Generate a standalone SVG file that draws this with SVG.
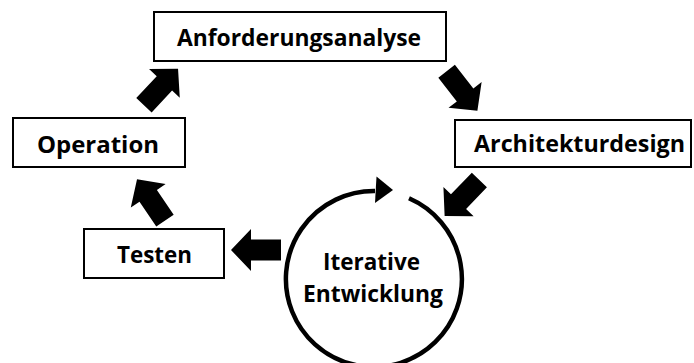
<svg xmlns="http://www.w3.org/2000/svg" xmlns:xlink="http://www.w3.org/1999/xlink" width="694" height="363" viewBox="0 0 694 363">
  <style>
    .box { fill: #ffffff; stroke: #000000; stroke-width: 2; }
    .lbl { font-family: "Open Sans", Lato, "Liberation Sans", sans-serif; font-weight: 700; font-size: 23.5px; fill: #000000; text-anchor: middle; font-variant-ligatures: none; }
    .blk { fill: #000000; stroke: none; }
    .ring { fill: none; stroke: #000000; stroke-width: 4.5; }
  </style>
  <defs>
    <polygon id="blockArrow" points="-25,-10.5 5,-10.5 5,-21 25,0 5,21 5,10.5 -25,10.5"/>
  </defs>
  <rect width="694" height="363" fill="#ffffff"/>

  <g id="connectors">
    <use xlink:href="#blockArrow" href="#blockArrow" class="blk" transform="translate(462,91) rotate(52)"/>
    <use xlink:href="#blockArrow" href="#blockArrow" class="blk" transform="translate(462,198) rotate(134)"/>
    <use xlink:href="#blockArrow" href="#blockArrow" class="blk" transform="translate(256,250) rotate(180)"/>
    <use xlink:href="#blockArrow" href="#blockArrow" class="blk" transform="translate(151,200) rotate(-124)"/>
    <use xlink:href="#blockArrow" href="#blockArrow" class="blk" transform="translate(161,87) rotate(-47)"/>
  </g>

  <g id="node-anforderungsanalyse">
    <rect class="box" x="154" y="12" width="292" height="49"/>
    <text class="lbl" x="299" y="46" textLength="244" lengthAdjust="spacingAndGlyphs">Anforderungsanalyse</text>
  </g>

  <g id="node-architekturdesign">
    <rect class="box" x="455" y="120" width="236" height="47"/>
    <text class="lbl" x="579.5" y="152" textLength="211" lengthAdjust="spacingAndGlyphs">Architekturdesign</text>
  </g>

  <g id="node-operation">
    <rect class="box" x="13" y="118" width="172" height="49"/>
    <text class="lbl" x="98" y="153" textLength="122" lengthAdjust="spacingAndGlyphs">Operation</text>
  </g>

  <g id="node-testen">
    <rect class="box" x="84" y="229" width="140" height="49"/>
    <text class="lbl" x="154.5" y="263" textLength="75" lengthAdjust="spacingAndGlyphs">Testen</text>
  </g>

  <g id="node-iterative-entwicklung">
    <path class="ring" d="M 409 198.3 A 88 88 0 1 1 375 191"/>
    <polygon class="blk" points="376.5,176.5 393,190 375,203"/>
    <text class="lbl" x="371.5" y="270" textLength="97" lengthAdjust="spacingAndGlyphs">Iterative</text>
    <text class="lbl" x="373" y="302" textLength="140" lengthAdjust="spacingAndGlyphs">Entwicklung</text>
  </g>
</svg>
